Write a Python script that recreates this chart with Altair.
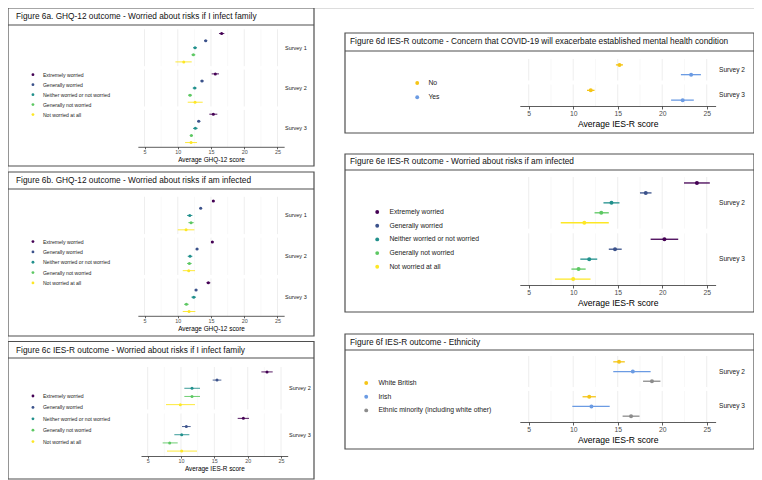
import altair as alt
import pandas as pd

FONT = "Liberation Sans"
BORDER = "#4f4f4f"
VIEW_W, VIEW_H = 746, 472
M = 8  # page margin: view coordinates = page coordinates - M

# ---------------- data ----------------
surveys_123 = ["Survey 1", "Survey 2", "Survey 3"]
surveys_23 = ["Survey 2", "Survey 3"]

worry_cats = ["Extremely worried", "Generally worried", "Neither worried or not worried",
              "Generally not worried", "Not worried at all"]
worry_colors = ["#440154", "#3B528B", "#21908C", "#5DC863", "#FDE725"]
concern_cats = ["No", "Yes"]
concern_colors = ["#F5C518", "#6B9BE3"]
ethnic_cats = ["White British", "Irish", "Ethnic minority (including white other)"]
ethnic_colors = ["#F5C518", "#6B9BE3", "#8C8C8C"]

tick_values = [5, 10, 15, 20, 25]
x_domain = [4, 26]

titles = {
    "a": "Figure 6a. GHQ-12 outcome - Worried about risks if I infect family",
    "b": "Figure 6b. GHQ-12 outcome - Worried about risks if am infected",
    "c": "Figure 6c IES-R outcome - Worried about risks if I infect family",
    "d": "Figure 6d IES-R outcome - Concern that COVID-19 will exacerbate established mental health condition",
    "e": "Figure 6e IES-R outcome - Worried about risks if am infected",
    "f": "Figure 6f IES-R outcome - Ethnicity",
}
x_titles = {"ghq": "Average GHQ-12 score", "ies": "Average IES-R score"}

# survey-major order (survey 1 cats..., survey 2 cats..., ...)
fig6a_mean = [16.6, 14.2, 12.6, 12.35, 10.9, 15.65, 13.65, 12.55, 11.85, 12.6, 15.35, 13.15, 12.65, 12.05, 12.0]
fig6a_lo = [16.2, 13.95, 12.3, 12.05, 9.65, 15.1, 13.4, 12.25, 11.55, 11.5, 14.75, 12.9, 12.3, 11.8, 11.1]
fig6a_hi = [17.0, 14.45, 12.9, 12.65, 12.1, 16.2, 13.9, 12.85, 12.15, 13.75, 15.95, 13.4, 13.0, 12.3, 12.9]

fig6b_mean = [15.35, 13.45, 11.8, 12.0, 11.25, 15.2, 12.9, 11.85, 11.75, 11.65, 14.6, 12.75, 12.4, 11.3, 11.7]
fig6b_lo = [15.15, 13.25, 11.4, 11.6, 10.0, 15.0, 12.7, 11.5, 11.4, 10.75, 14.3, 12.55, 12.05, 10.95, 10.75]
fig6b_hi = [15.55, 13.65, 12.2, 12.4, 12.5, 15.4, 13.1, 12.2, 12.1, 12.6, 14.9, 12.95, 12.75, 11.65, 12.65]

fig6c_mean = [22.9, 15.4, 11.65, 11.65, 9.9, 19.35, 10.8, 10.1, 8.3, 10.1]
fig6c_lo = [22.05, 14.75, 10.5, 10.5, 7.75, 18.5, 10.15, 9.0, 7.25, 7.9]
fig6c_hi = [23.75, 16.05, 12.85, 12.85, 12.1, 20.2, 11.45, 11.25, 9.5, 12.4]

fig6d_mean = [15.2, 23.25, 11.97, 22.3]
fig6d_lo = [14.8, 22.1, 11.55, 21.0]
fig6d_hi = [15.6, 24.35, 12.4, 23.55]

fig6e_mean = [23.9, 18.15, 14.3, 13.15, 11.25, 20.25, 14.7, 11.8, 10.6, 10.0]
fig6e_lo = [22.45, 17.5, 13.4, 12.4, 8.6, 18.7, 14.0, 10.8, 9.8, 7.95]
fig6e_hi = [25.35, 18.8, 15.2, 14.0, 14.0, 21.8, 15.45, 12.7, 11.4, 11.95]

fig6f_mean = [15.15, 16.7, 18.85, 11.8, 12.05, 16.5]
fig6f_lo = [14.5, 14.5, 17.85, 11.05, 9.9, 15.55]
fig6f_hi = [15.8, 18.7, 19.8, 12.55, 14.1, 17.45]

# ---------------- layout (page pixels) ----------------
left_style = dict(title_size=8.3, leg_font=5.1, leg_sym=8, strip_font=5.5,
                  ax_label=5.4, ax_title=6.4, tick=2, lpad=0.5, tpad=1.5, pt=9, eb=0.9)
right_style = dict(title_size=8.3, leg_font=6.8, leg_sym=15, strip_font=6.6,
                   ax_label=6.8, ax_title=8.6, tick=3, lpad=1.5, tpad=2.4, pt=16, eb=1.3)

panels = [
    dict(key="a", xt="ghq", surveys=surveys_123, cats=worry_cats, colors=worry_colors,
         mean=fig6a_mean, lo=fig6a_lo, hi=fig6a_hi,
         box=(8, 314, 8, 166), header=25, tpos=(16, 16.5),
         xr=(137.85, 284.15), yr=(29.3, 146.8), gap=0.49,
         leg=(32, 41, 74.7, 9.07), strip_x=285, **left_style),
    dict(key="b", xt="ghq", surveys=surveys_123, cats=worry_cats, colors=worry_colors,
         mean=fig6b_mean, lo=fig6b_lo, hi=fig6b_hi,
         box=(8, 314, 172, 336), header=189, tpos=(16, 181),
         xr=(137.85, 284.15), yr=(196.8, 315.8), gap=0.49,
         leg=(32, 41, 241.6, 9.44), strip_x=285, **left_style),
    dict(key="c", xt="ies", surveys=surveys_23, cats=worry_cats, colors=worry_colors,
         mean=fig6c_mean, lo=fig6c_lo, hi=fig6c_hi,
         box=(8, 314, 341.5, 479), header=358, tpos=(16, 350.5),
         xr=(141.0, 287.7), yr=(367, 456), gap=0.48,
         leg=(32, 41, 396, 10.5), strip_x=289, **left_style),
    dict(key="d", xt="ies", surveys=surveys_23, cats=concern_cats, colors=concern_colors,
         mean=fig6d_mean, lo=fig6d_lo, hi=fig6d_hi,
         box=(345, 754, 33, 133), header=51, tpos=(350, 42),
         xr=(519.8, 715.6), yr=(59, 106), gap=0.4,
         leg=(416, 426, 83, 13), strip_x=719, **right_style),
    dict(key="e", xt="ies", surveys=surveys_23, cats=worry_cats, colors=worry_colors,
         mean=fig6e_mean, lo=fig6e_lo, hi=fig6e_hi,
         box=(345, 754, 154, 312), header=170, tpos=(350, 162),
         xr=(519.8, 715.6), yr=(177, 285), gap=0.46,
         leg=(376, 387, 212, 12.5), strip_x=719, **right_style),
    dict(key="f", xt="ies", surveys=surveys_23, cats=ethnic_cats, colors=ethnic_colors,
         mean=fig6f_mean, lo=fig6f_lo, hi=fig6f_hi,
         box=(345, 754, 334, 449), header=350, tpos=(350, 342.5),
         xr=(519.8, 715.6), yr=(356, 422), gap=0.4,
         leg=(365, 376, 383, 12.5), strip_x=719, **right_style),
]

one = pd.DataFrame({"k": [0]})


def build_panel(p):
    layers = []
    bx0, bx1, by0, by1 = [v - M for v in p["box"]]
    # frame + header
    layers.append(alt.Chart(one).mark_rect(fill="white", stroke=BORDER, strokeWidth=1.2).encode(
        x=alt.value(bx0), x2=alt.value(bx1), y=alt.value(by0), y2=alt.value(by1)))
    layers.append(alt.Chart(one).mark_rule(color=BORDER, strokeWidth=1.2).encode(
        x=alt.value(bx0), x2=alt.value(bx1), y=alt.value(p["header"] - M)))
    layers.append(alt.Chart(pd.DataFrame({"t": [titles[p["key"]]]})).mark_text(
        align="left", baseline="middle", font=FONT, fontSize=p["title_size"], color="#111111").encode(
        x=alt.value(p["tpos"][0] - M), y=alt.value(p["tpos"][1] - M), text="t:N"))

    n = len(p["cats"])
    ns = len(p["surveys"])
    span = n + 0.2
    pitch = span + p["gap"]
    total = ns * span + (ns - 1) * p["gap"]

    rows = []
    k = 0
    for g, s in enumerate(p["surveys"]):
        for i, c in enumerate(p["cats"]):
            rows.append(dict(survey=s, cat=c, y=g * pitch + 0.6 + i,
                             mean=p["mean"][k], lo=p["lo"][k], hi=p["hi"][k]))
            k += 1
    df = pd.DataFrame(rows)

    grid_major, grid_minor = [], []
    minor_vals = [(a + b) / 2 for a, b in zip(tick_values[:-1], tick_values[1:])]
    for g in range(ns):
        for v in tick_values:
            grid_major.append(dict(v=v, y0=g * pitch, y1=g * pitch + span))
        for v in minor_vals:
            grid_minor.append(dict(v=v, y0=g * pitch, y1=g * pitch + span))
    strips = pd.DataFrame([dict(survey=s, yc=g * pitch + span / 2) for g, s in enumerate(p["surveys"])])

    xs = alt.Scale(domain=x_domain, range=[p["xr"][0] - M, p["xr"][1] - M], nice=False, zero=False)
    ys = alt.Scale(domain=[0, total], range=[p["yr"][0] - M, p["yr"][1] - M], nice=False, zero=False)
    cs = alt.Scale(domain=p["cats"], range=p["colors"])

    for data, col, w in ((grid_minor, "#F1F1F1", 0.5), (grid_major, "#E6E6E6", 0.7)):
        layers.append(alt.Chart(pd.DataFrame(data)).mark_rule(color=col, strokeWidth=w).encode(
            x=alt.X("v:Q", scale=xs, axis=None),
            y=alt.Y("y0:Q", scale=ys, axis=None), y2="y1:Q"))

    layers.append(alt.Chart(df).mark_rule(strokeWidth=p["eb"]).encode(
        x=alt.X("lo:Q", scale=xs, axis=None), x2="hi:Q",
        y=alt.Y("y:Q", scale=ys, axis=None),
        color=alt.Color("cat:N", scale=cs, legend=None)))

    r = (p["leg_sym"] / 3.14159) ** 0.5
    h = max(2 * r, p["leg_font"])
    sym_x, lab_x, row0, spacing = p["leg"]
    legend = alt.Legend(orient="none", legendX=sym_x - r - M, legendY=row0 - h / 2 - M,
                        title=None, direction="vertical", padding=0,
                        labelFont=FONT, labelFontSize=p["leg_font"], labelColor="#1A1A1A",
                        symbolType="circle", symbolSize=p["leg_sym"], symbolStrokeWidth=0,
                        symbolOpacity=1, rowPadding=spacing - h,
                        labelOffset=lab_x - (sym_x + r), labelLimit=300, zindex=2)
    axis = alt.Axis(orient="bottom", offset=(p["yr"][1] - M) - VIEW_H, values=tick_values,
                    title=x_titles[p["xt"]], grid=False, zindex=2,
                    domainColor="#333333", domainWidth=0.8, tickColor="#333333", tickWidth=0.8,
                    tickSize=p["tick"], labelPadding=p["lpad"], labelFont=FONT,
                    labelFontSize=p["ax_label"], labelColor="#4D4D4D", labelFlush=False,
                    labelOverlap=False, titleFont=FONT, titleFontSize=p["ax_title"],
                    titleFontWeight="normal", titleColor="#000000", titlePadding=p["tpad"])
    layers.append(alt.Chart(df).mark_circle(size=p["pt"], opacity=1).encode(
        x=alt.X("mean:Q", scale=xs, axis=axis),
        y=alt.Y("y:Q", scale=ys, axis=None),
        color=alt.Color("cat:N", scale=cs, legend=legend)))

    layers.append(alt.Chart(strips).mark_text(
        align="left", baseline="middle", font=FONT, fontSize=p["strip_font"], color="#1A1A1A").encode(
        x=alt.value(p["strip_x"] - M), y=alt.Y("yc:Q", scale=ys, axis=None), text="survey:N"))
    return layers


all_layers = []
for p in panels:
    all_layers.extend(build_panel(p))

chart = alt.layer(*all_layers).resolve_scale(
    x="independent", y="independent", color="independent"
).resolve_axis(x="independent", y="independent").resolve_legend(color="independent").properties(
    width=VIEW_W, height=VIEW_H, padding=0, autosize=alt.AutoSizeParams(type="none")
).configure_view(strokeWidth=0).configure(font=FONT)

chart.save("out.html", embed_options={"renderer": "svg", "actions": False})
